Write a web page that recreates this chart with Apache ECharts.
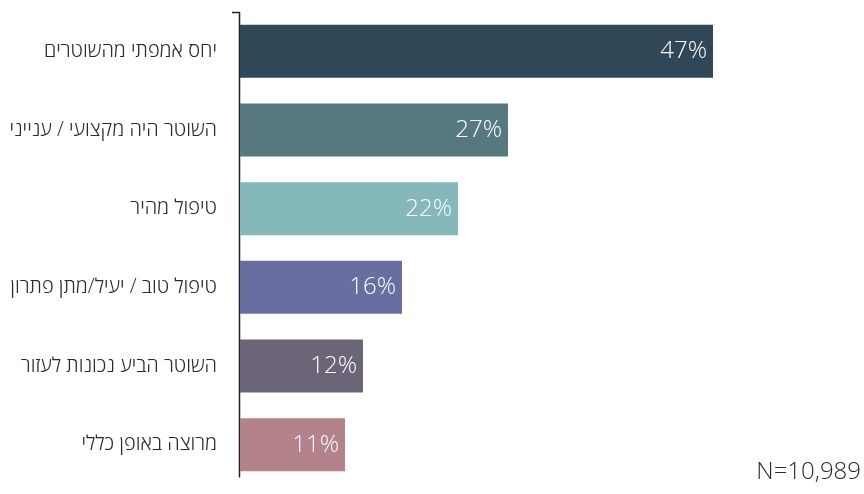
<!DOCTYPE html>
<html>
<head>
<meta charset="utf-8">
<script src="https://cdn.jsdelivr.net/npm/echarts@6/dist/echarts.min.js"></script>
<style>
html,body{margin:0;padding:0;background:#fff;}
#chart{width:864px;height:494px;}
</style>
</head>
<body>
<div id="chart"></div>
<script>
const categories = [
  'יחס אמפתי מהשוטרים',
  'השוטר היה מקצועי / ענייני',
  'טיפול מהיר',
  'טיפול טוב / יעיל/מתן פתרון',
  'השוטר הביע נכונות לעזור',
  'מרוצה באופן כללי'
];
const values = [47.3, 26.8, 21.8, 16.2, 12.3, 10.5];
const valueLabels = ['47%', '27%', '22%', '16%', '12%', '11%'];
const colors = ['#2f4756', '#56797f', '#84b8bb', '#686fa0', '#6b6577', '#b4828b'];
const sampleNote = 'N=10,989';

const chart = echarts.init(document.getElementById('chart'), null, {renderer: 'canvas'});
const FONT = '"Open Sans", "Liberation Sans", "DejaVu Sans", sans-serif';

chart.setOption({
  animation: false,
  grid: {left: 240, right: 24, top: 12, bottom: 10, containLabel: false},
  xAxis: {
    type: 'value', min: 0, max: 60,
    show: false
  },
  yAxis: {
    type: 'category',
    data: categories,
    inverse: true,
    axisLine: {show: false},
    axisTick: {show: false},
    axisLabel: {
      margin: 23,
      color: '#2a2a2a',
      fontSize: 20,
      fontFamily: FONT,
      fontWeight: 300
    }
  },
  series: [{
    type: 'bar',
    barWidth: 53,
    data: values.map((v, i) => ({value: v, itemStyle: {color: colors[i]}})),
    label: {
      show: true,
      position: 'insideRight',
      distance: 6,
      color: '#fff',
      fontSize: 24,
      fontFamily: FONT,
      fontWeight: 300,
      formatter: p => valueLabels[p.dataIndex]
    }
  }],
  graphic: [
    {
      type: 'polyline',
      shape: {points: [[232, 12.5], [239.5, 12.5], [239.5, 477.5]]},
      style: {stroke: '#222', lineWidth: 1.5, fill: null}
    },
    {
      type: 'text',
      right: 3,
      top: 460,
      style: {text: sampleNote, fill: '#2a2a2a', fontSize: 24, fontFamily: FONT, fontWeight: 300}
    }
  ]
});
</script>
</body>
</html>
